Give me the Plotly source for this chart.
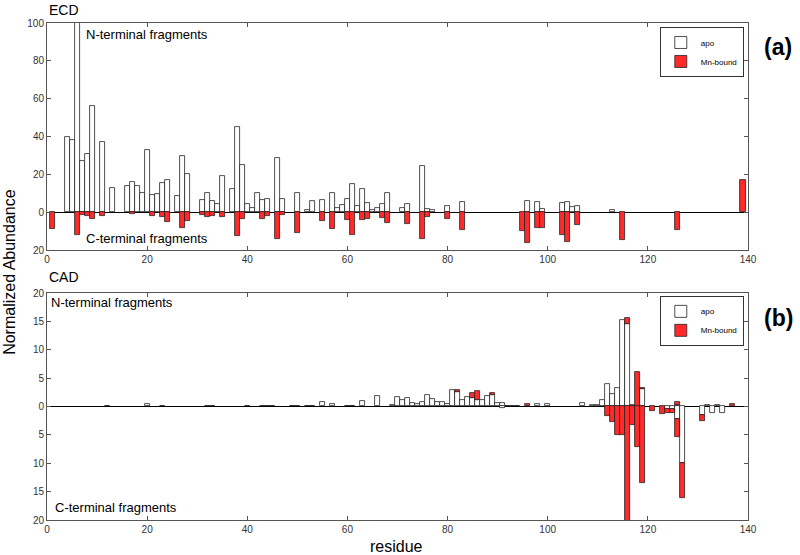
import plotly.graph_objects as go

# ---------------- ECD panel (a) ----------------
ecd_apo_n_res = [4, 5, 6, 7, 8, 9, 11, 13, 16, 17, 18, 19, 20, 21, 22, 23, 24, 26, 27, 28,
                 31, 32, 33, 34, 35, 37, 38, 39, 40, 41, 42, 43, 44, 46, 47, 50, 52, 53, 55, 57,
                 58, 59, 60, 61, 62, 63, 64, 65, 66, 67, 68, 71, 72, 75, 76, 77, 80, 83, 96, 98,
                 99, 103, 104, 105, 106, 113]
ecd_apo_n_val = [40, 38, 110, 27, 31, 56, 37, 13, 14, 16, 14, 10, 33, 9.3, 9.9, 15.5, 17, 8.5, 29.6, 20,
                 6.7, 10.2, 6, 4.2, 19.4, 12.2, 45, 25, 4.4, 2.5, 10.2, 6.3, 7.2, 28.7, 7.2, 10.2, 1.4, 6, 6.7, 10.2,
                 2.5, 3.7, 7.1, 14.8, 3.2, 12.5, 5, 1.4, 2.5, 4.6, 10.4, 2.5, 4.6, 24.7, 1.8, 1.1, 3.2, 5.6, 6, 5.3,
                 1.8, 4.9, 5.3, 2.8, 3.2, 1.2]

ecd_mn_n_res = [139]
ecd_mn_n_val = [16.8]

ecd_mn_c_res = [1, 6, 7, 8, 9, 11, 17, 21, 23, 24, 27, 28, 31, 32, 33, 35, 38, 39, 43, 44,
                46, 47, 50, 55, 57, 60, 61, 63, 64, 67, 68, 72, 75, 76, 80, 83, 95, 96, 98, 99,
                103, 104, 106, 115, 126]
ecd_mn_c_val = [-8.8, -11.8, -1.2, -1.8, -3.7, -2.1, -0.7, -1.8, -2.6, -4.9, -8.3, -4.8, -1.6, -2.6, -1.9, -2.5, -12.5, -3.7, -3.4, -1.8,
                -14.3, -1.6, -10.9, -4.8, -9, -3.9, -11.8, -4.2, -3.7, -2.8, -5.6, -6.2, -14.1, -2.5, -3.4, -9.2, -10, -16, -8.3, -8.3,
                -12.2, -15.7, -6.7, -14.8, -9.2]

# ---------------- CAD panel (b) ----------------
cad_apo_n_res = [12, 20, 23, 32, 33, 40, 43, 44, 45, 49, 50, 52, 53, 55, 57, 60, 61, 63, 66, 69,
                 70, 71, 72, 73, 74, 75, 76, 77, 78, 79, 80, 81, 82, 83, 84, 85, 86, 87, 88, 89,
                 90, 91, 92, 93, 94, 98, 100, 107, 109, 110, 111, 112, 113, 114, 115, 116, 117, 119, 126, 132,
                 134]
cad_apo_n_val = [0.15, 0.5, 0.15, 0.15, 0.15, 0.15, 0.15, 0.15, 0.15, 0.15, 0.15, 0.15, 0.15, 0.85, 0.5, 0.15, 0.15, 1.0, 1.8, 0.3,
                 1.65, 1.06, 1.5, 0.65, 0.5, 0.77, 2.06, 1.36, 0.83, 0.83, 0.5, 2.95, 2.6, 1.1, 1.6, 1.45, 1.2, 1.2, 1.9, 2.1,
                 0.65, 0.65, 0.15, 0.15, 0.15, 0.5, 0.5, 0.65, 0.25, 0.3, 1.2, 4.0, 2.2, 3.2, 15.2, 14.6, 0.3, 3.1, 0.2, 0.2,
                 0.2]

cad_apo_c_res = [91, 124, 125, 126, 127, 131, 133, 135]
cad_apo_c_val = [-0.25, -0.4, -0.4, -2.2, -10, -1.5, -1.1, -1.1]

cad_mn_n_res = [82, 85, 86, 89, 96, 116, 118, 119, 126, 137]
cad_mn_n_val = [0.3, 0.95, 1.5, 0.35, 0.45, 1.0, 6.0, 0.2, 0.6, 0.5]

cad_mn_c_res = [112, 113, 114, 115, 116, 117, 118, 119, 121, 123, 124, 125, 126, 127, 131]
cad_mn_c_val = [-1.6, -2.8, -5.0, -5.0, -22, -3.2, -7.2, -13.5, -0.8, -1.3, -0.7, -0.8, -3.1, -6.2, -1.1]

for a, b in [(ecd_apo_n_res, ecd_apo_n_val), (ecd_mn_n_res, ecd_mn_n_val), (ecd_mn_c_res, ecd_mn_c_val),
             (cad_apo_n_res, cad_apo_n_val), (cad_apo_c_res, cad_apo_c_val),
             (cad_mn_n_res, cad_mn_n_val), (cad_mn_c_res, cad_mn_c_val)]:
    assert len(a) == len(b)

x_ticks = [0, 20, 40, 60, 80, 100, 120, 140]
ecd_y_ticks = [-20, 0, 20, 40, 60, 80, 100]
cad_y_ticks = [-20, -15, -10, -5, 0, 5, 10, 15, 20]

WHITE = "white"
RED = "#ff2a2a"
EDGE = "#222222"
FONT = "Liberation Sans, Arial, sans-serif"

fig = go.Figure()


def add(res, vals, color, name, xa, ya, legend, show):
    fig.add_trace(go.Bar(
        x=res, y=vals, width=1.0, name=name, xaxis=xa, yaxis=ya,
        legend=legend, showlegend=show, hoverinfo="skip",
        marker=dict(color=color, line=dict(color=EDGE, width=0.8)),
    ))


add(ecd_apo_n_res, ecd_apo_n_val, WHITE, "apo", "x", "y", "legend", True)
add(ecd_mn_n_res, ecd_mn_n_val, RED, "Mn-bound", "x", "y", "legend", True)
add(ecd_mn_c_res, ecd_mn_c_val, RED, "Mn-bound", "x", "y", "legend", False)

add(cad_apo_n_res, cad_apo_n_val, WHITE, "apo", "x2", "y2", "legend2", True)
add(cad_apo_c_res, cad_apo_c_val, WHITE, "apo", "x2", "y2", "legend2", False)
add(cad_mn_n_res, cad_mn_n_val, RED, "Mn-bound", "x2", "y2", "legend2", True)
add(cad_mn_c_res, cad_mn_c_val, RED, "Mn-bound", "x2", "y2", "legend2", False)

axis_common = dict(
    showline=True, linecolor="#555", linewidth=1, mirror="ticks",
    ticks="inside", ticklen=4, tickcolor="#555", showgrid=False,
    tickfont=dict(family=FONT, size=10, color="#333"),
)

legend_common = dict(
    xanchor="right", yanchor="top", bgcolor="white", bordercolor="#333", borderwidth=1,
    font=dict(family=FONT, size=8), tracegroupgap=0, itemwidth=30,
)

fig.update_layout(
    width=800, height=555,
    margin=dict(l=47, r=52, t=23, b=35),
    paper_bgcolor="white", plot_bgcolor="white",
    barmode="relative", bargap=0,
    font=dict(family=FONT, color="black"),
    xaxis=dict(domain=[0, 1], anchor="y", range=[0, 140], tickvals=x_ticks,
               zeroline=False, **axis_common),
    yaxis=dict(domain=[0.543, 1], anchor="x", range=[-20, 100], tickvals=ecd_y_ticks,
               ticktext=[str(abs(v)) for v in ecd_y_ticks],
               zeroline=True, zerolinecolor="black", zerolinewidth=1, **axis_common),
    xaxis2=dict(domain=[0, 1], anchor="y2", range=[0, 140], tickvals=x_ticks,
                zeroline=False, **axis_common),
    yaxis2=dict(domain=[0, 0.4567], anchor="x2", range=[-20, 20], tickvals=cad_y_ticks,
                ticktext=[str(abs(v)) for v in cad_y_ticks],
                zeroline=True, zerolinecolor="black", zerolinewidth=1, **axis_common),
    legend=dict(x=0.994, y=0.992, **legend_common),
    legend2=dict(x=0.994, y=0.451, **legend_common),
)

ann = [
    dict(text="ECD", x=0, y=1.026, xanchor="left", yanchor="middle", font=dict(size=14)),
    dict(text="CAD", x=0, y=0.489, xanchor="left", yanchor="middle", font=dict(size=14)),
    dict(text="<b>(a)</b>", x=1.043, y=0.952, xanchor="center", yanchor="middle", font=dict(size=23)),
    dict(text="<b>(b)</b>", x=1.043, y=0.406, xanchor="center", yanchor="middle", font=dict(size=23)),
    dict(text="N-terminal fragments", x=0.053, y=0.976, xanchor="left", yanchor="middle", font=dict(size=13)),
    dict(text="C-terminal fragments", x=0.053, y=0.567, xanchor="left", yanchor="middle", font=dict(size=13)),
    dict(text="N-terminal fragments", x=0.003, y=0.437, xanchor="left", yanchor="middle", font=dict(size=13)),
    dict(text="C-terminal fragments", x=0.008, y=0.026, xanchor="left", yanchor="middle", font=dict(size=13)),
    dict(text="Normalized Abundance", x=-0.053, y=0.499, xanchor="center", yanchor="middle",
         textangle=-90, font=dict(size=16)),
    dict(text="residue", x=0.498, y=-0.054, xanchor="center", yanchor="middle", font=dict(size=16)),
]
for a in ann:
    a.update(xref="paper", yref="paper", showarrow=False)
    a["font"].update(family=FONT, color="black")
fig.update_layout(annotations=ann)

fig.write_html(
    "out.html",
    config={"displayModeBar": False},
    post_script="document.body.style.margin='0';document.body.style.overflow='hidden';",
)
